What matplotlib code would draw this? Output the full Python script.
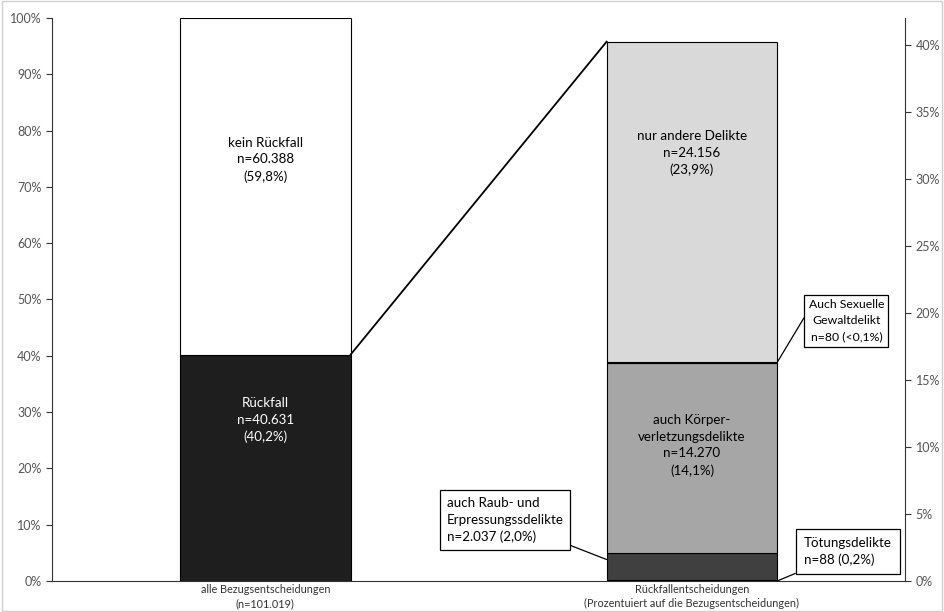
import matplotlib.pyplot as plt
from matplotlib.patches import Rectangle

plt.rcParams['font.family'] = ['Lato', 'DejaVu Sans']

# left bar (share of all Bezugsentscheidungen, %)
left_labels = ['Rückfall\nn=40.631\n(40,2%)', 'kein Rückfall\nn=60.388\n(59,8%)']
left_values = [40.2, 59.8]
left_colors = ['#1e1e1e', '#ffffff']

# right bar (Rückfall broken down, % of Bezugsentscheidungen)
right_names = ['Tötungsdelikte', 'Raub', 'Körper', 'Sexuell', 'andere']
right_values = [0.09, 2.02, 14.13, 0.08, 23.91]
right_colors = ['#404040', '#404040', '#a6a6a6', '#a6a6a6', '#d9d9d9']

categories = ['alle Bezugsentscheidungen\n(n=101.019)',
              'Rückfallentscheidungen\n(Prozentuiert auf die Bezugsentscheidungen)']

fig = plt.figure(figsize=(9.44, 6.12), dpi=100)
ax = fig.add_axes([0.055, 0.0507, 0.904, 0.92])
ax2 = ax.twinx()

fs = 9.6
ls = 1.45

w = 0.4
bottom = 0
for v, c in zip(left_values, left_colors):
    ax.bar(0, v, w, bottom=bottom, color=c, edgecolor='black', linewidth=0.8, zorder=3)
    bottom += v
ax.text(0, 28.6, left_labels[0], color='white', ha='center', va='center',
        fontsize=fs, linespacing=ls, zorder=5)
ax.text(0, 74.8, left_labels[1], color='black', ha='center', va='center',
        fontsize=fs, linespacing=ls, zorder=5)

bottom = 0
for v, c in zip(right_values, right_colors):
    ax2.bar(1, v, w, bottom=bottom, color=c, edgecolor='black', linewidth=0.8, zorder=3)
    bottom += v
right_total = bottom
sex_level = sum(right_values[:4])

ax2.text(1, 31.9, 'nur andere Delikte\nn=24.156\n(23,9%)', ha='center', va='center',
         fontsize=fs, linespacing=ls)
ax2.text(1, 10.1, 'auch Körper-\nverletzungsdelikte\nn=14.270\n(14,1%)', ha='center', va='center',
         fontsize=fs, linespacing=ls)

# connector from left bar top of Rückfall to right bar top
ax2.plot([0 + w / 2, 1 - w / 2], [left_values[0] * 42 / 100, right_total],
         color='black', linewidth=1.3, clip_on=False, zorder=4)

ax.set_xlim(-0.5, 1.5)
ax.set_ylim(0, 100)
ax2.set_ylim(0, 42)
ax.set_yticks(range(0, 101, 10))
ax.set_yticklabels([f'{t}%' for t in range(0, 101, 10)])
ax2.set_yticks(range(0, 41, 5))
ax2.set_yticklabels([f'{t}%' for t in range(0, 41, 5)])
ax.set_xticks([0, 1])
ax.set_xticklabels(categories, fontsize=7.8, color='#333333', linespacing=1.35)
ax.tick_params(axis='x', length=0, pad=2)
for a in (ax, ax2):
    a.tick_params(axis='y', labelsize=9, labelcolor='#555555', color='#333333', length=4)
    a.spines['top'].set_visible(False)
    for s in a.spines.values():
        s.set_color('#333333')
ax.spines['right'].set_visible(False)
ax2.spines['left'].set_visible(False)
ax2.spines['bottom'].set_visible(False)

box = dict(boxstyle='square,pad=0.5', facecolor='white', edgecolor='black', linewidth=0.9)
line = dict(arrowstyle='-', color='black', lw=0.9, shrinkA=0, shrinkB=0)
ax2.annotate('auch Raub- und\nErpressungssdelikte\nn=2.037 (2,0%)', xy=(0.8, 1.6),
             xytext=(0.425, 4.55), ha='left', va='center', fontsize=fs, linespacing=ls,
             bbox=box, arrowprops=line, zorder=6)
ax2.annotate('Tötungsdelikte\nn=88 (0,2%)', xy=(1.2, 0.0),
             xytext=(1.262, 2.2), ha='left', va='center', fontsize=fs, linespacing=ls,
             bbox=dict(boxstyle='square,pad=0.6', facecolor='white', edgecolor='black',
                       linewidth=0.9),
             arrowprops=line, zorder=6)

# Sexualdelikt callout: centred text box plus a separate leader line
ax2.plot([1.2, 1.262], [sex_level, 19.6], color='black', lw=0.9, zorder=5)
ax2.text(1.362, 19.4, 'Auch Sexuelle\nGewaltdelikt\nn=80 (<0,1%)', ha='center', va='center',
         multialignment='center', fontsize=8.8, linespacing=1.55, zorder=6,
         bbox=dict(boxstyle='square,pad=0.35', facecolor='white', edgecolor='black',
                   linewidth=0.9))

fig.patches.append(Rectangle((0.002, 0.002), 0.996, 0.996, transform=fig.transFigure,
                             fill=False, edgecolor='#d0d0d0', linewidth=1))
fig.savefig('out.png', dpi=100)
